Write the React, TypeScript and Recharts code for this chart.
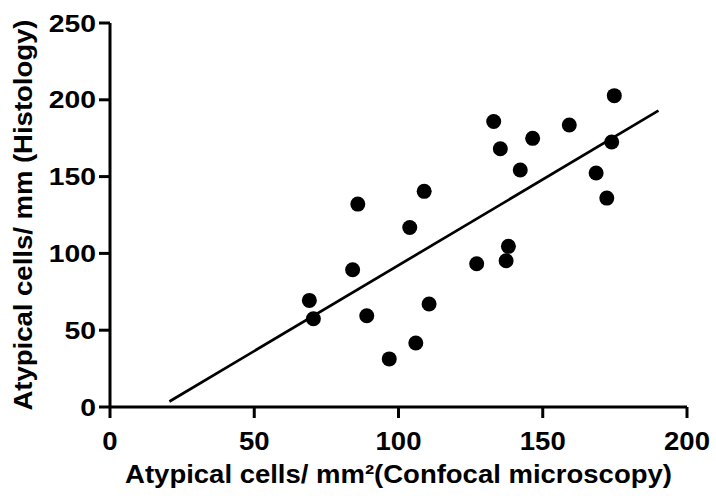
import { ScatterChart, Scatter, XAxis, YAxis, ReferenceLine } from 'recharts';

const confocal = [69.1, 70.5, 84.1, 85.9, 89.0, 96.8, 103.9, 106.0, 108.9, 110.6, 127.1, 133.0, 135.3, 137.3, 138.1, 142.2, 146.5, 159.2, 168.5, 172.2, 173.9, 174.8];
const histology = [69.4, 57.5, 89.4, 132.1, 59.4, 31.3, 116.9, 41.7, 140.4, 67.1, 93.3, 185.9, 168.1, 95.2, 104.6, 154.3, 174.9, 183.6, 152.3, 136.0, 172.5, 202.7];

const fitX = [20.6, 190.1];
const fitY = [3.6, 192.9];

const xTicks = [0, 50, 100, 150, 200];
const yTicks = [0, 50, 100, 150, 200, 250];

const xTitle = 'Atypical cells/ mm\u00b2(Confocal microscopy)';
const yTitle = 'Atypical cells/ mm (Histology)';

const points = confocal.map((x, i) => ({ x, y: histology[i] }));

const FONT = '"Liberation Sans", Arial, Helvetica, sans-serif';
const STRETCH = 1.1;

const XTick = ({ x, y, payload }: any) => (
  <text
    transform={`translate(${x},${y}) scale(${STRETCH},1)`}
    textAnchor="middle"
    dy="0.71em"
    fontSize={25}
    fontWeight="bold"
    fontFamily={FONT}
    fill="#000"
  >
    {payload.value}
  </text>
);

const YTick = ({ x, y, payload }: any) => (
  <text
    transform={`translate(${x},${y}) scale(1.18,1)`}
    textAnchor="end"
    dy="0.36em"
    fontSize={24}
    fontWeight="bold"
    fontFamily={FONT}
    fill="#000"
  >
    {payload.value}
  </text>
);

const XTitle = ({ viewBox }: any) => (
  <text
    transform={`translate(${viewBox.x + viewBox.width / 2},483) scale(${STRETCH},1)`}
    textAnchor="middle"
    fontSize={25}
    fontWeight="bold"
    fontFamily={FONT}
    fill="#000"
  >
    {xTitle}
  </text>
);

const YTitle = ({ viewBox }: any) => (
  <text
    transform={`translate(31.5,${viewBox.y + viewBox.height / 2}) rotate(-90) scale(${STRETCH},1)`}
    textAnchor="middle"
    fontSize={25}
    fontWeight="bold"
    fontFamily={FONT}
    fill="#000"
  >
    {yTitle}
  </text>
);

const Dot = ({ cx, cy }: any) => <circle cx={cx} cy={cy} r={7.5} fill="#000" />;

export default function App() {
  return (
    <div style={{ position: 'absolute', left: 0, top: 0, background: '#fff' }}>
      <ScatterChart width={716} height={498} margin={{ top: 23, right: 29, bottom: 0, left: 0 }}>
        <XAxis
          type="number"
          dataKey="x"
          domain={[0, 200]}
          ticks={xTicks}
          height={91}
          tickSize={11}
          tickMargin={14}
          axisLine={{ stroke: '#000', strokeWidth: 3 }}
          tickLine={{ stroke: '#000', strokeWidth: 3 }}
          tick={<XTick />}
          label={<XTitle />}
          allowDataOverflow
        />
        <YAxis
          type="number"
          dataKey="y"
          domain={[0, 250]}
          ticks={yTicks}
          width={110}
          tickSize={11}
          tickMargin={3}
          axisLine={{ stroke: '#000', strokeWidth: 3 }}
          tickLine={{ stroke: '#000', strokeWidth: 3 }}
          tick={<YTick />}
          label={<YTitle />}
          allowDataOverflow
        />
        <ReferenceLine
          segment={[
            { x: fitX[0], y: fitY[0] },
            { x: fitX[1], y: fitY[1] },
          ]}
          stroke="#000"
          strokeWidth={2.7}
        />
        <Scatter data={points} fill="#000" shape={<Dot />} isAnimationActive={false} />
      </ScatterChart>
    </div>
  );
}
